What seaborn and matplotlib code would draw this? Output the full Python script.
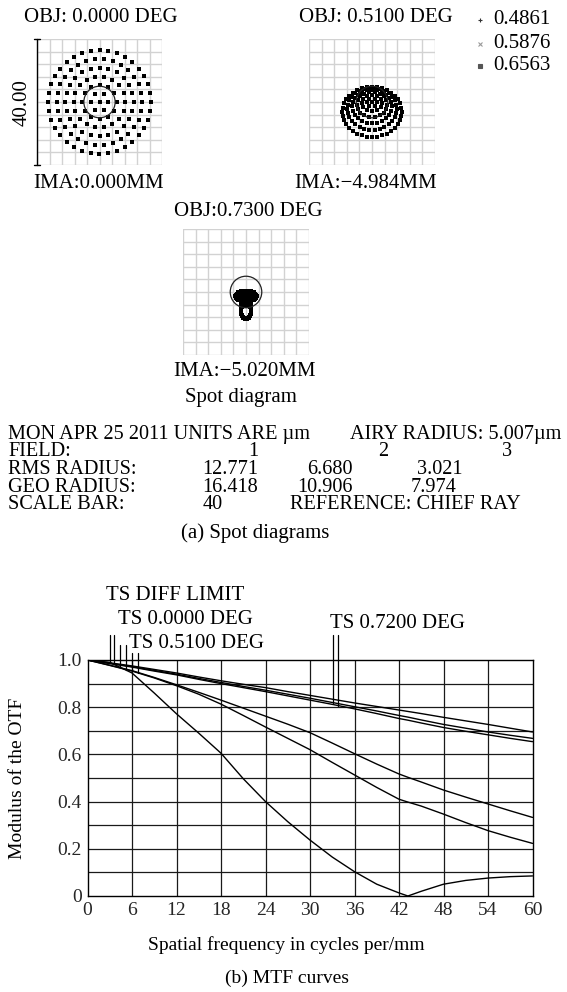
import numpy as np
import pandas as pd
import matplotlib
matplotlib.use("Agg")
import matplotlib.pyplot as plt
import seaborn as sns
from matplotlib.lines import Line2D
from matplotlib.patches import Circle

# ---------------- data ----------------
spot_titles = ["OBJ: 0.0000 DEG", "OBJ: 0.5100 DEG", "OBJ:0.7300 DEG"]
spot_ima = ["IMA:0.000MM", "IMA:\u22124.984MM", "IMA:\u22125.020MM"]
wavelengths = ["0.4861", "0.5876", "0.6563"]
airy_radius_um = 5.007
scale_bar_label = "40.00"

# hexapolar pupil rings: points per ring
ring_points = [1, 6, 12, 18, 24, 30, 36]
# field 1 (0.00 deg) ring shape in um
f1_rx = [0.0, 2.75, 5.5, 8.2, 10.9, 13.7, 16.4]
f1_ry = [0.0, 2.75, 5.5, 8.2, 10.9, 13.7, 16.4]
f1_cy = [0.0, 0.0, 0.0, 0.0, 0.0, 0.0, 0.0]
# field 2 (0.51 deg)
f2_rx = [0.0, 1.6, 3.2, 4.8, 6.3, 7.9, 9.5]
f2_ry = [0.0, 1.3, 2.65, 4.0, 5.3, 6.6, 7.95]
f2_cy = [0.0, -0.1, -0.35, -0.8, -1.4, -2.2, -3.15]
# field 3 (0.73 deg)
f3_rx = [0.0, 1.0, 1.9, 2.8, 3.4, 1.5, 1.6]
f3_ry = [0.0, 0.6, 1.1, 1.5, 1.8, 1.0, 2.4]
f3_cy = [-0.9, -1.1, -1.2, -1.3, -1.4, -3.6, -6.1]

field_ids = ["1", "2", "3"]
rms_radius = ["12.771", "6.680", "3.021"]
geo_radius = ["16.418", "10.906", "7.974"]

# MTF curves
mtf_freq = [0, 3, 6, 9, 12, 15, 18, 21, 24, 27, 30, 33, 36, 39, 42, 43.2, 45, 48, 51, 54, 57, 60]
mtf_diff = [1.0, 0.988, 0.975, 0.96, 0.945, 0.928, 0.912, 0.897, 0.883, 0.866, 0.85, 0.834, 0.818,
            0.803, 0.788, 0.782, 0.773, 0.757, 0.742, 0.727, 0.711, 0.695]
mtf_072_t = [1.0, 0.986, 0.972, 0.956, 0.94, 0.922, 0.905, 0.888, 0.872, 0.855, 0.838, 0.82, 0.802,
             0.784, 0.765, 0.758, 0.746, 0.727, 0.711, 0.695, 0.681, 0.668]
mtf_072_s = [1.0, 0.985, 0.97, 0.953, 0.937, 0.918, 0.9, 0.883, 0.866, 0.848, 0.83, 0.812, 0.793,
             0.773, 0.752, 0.745, 0.733, 0.714, 0.698, 0.683, 0.668, 0.654]
mtf_051_t = [1.0, 0.978, 0.955, 0.926, 0.895, 0.863, 0.83, 0.796, 0.762, 0.728, 0.692, 0.648, 0.603,
             0.559, 0.517, 0.503, 0.483, 0.449, 0.419, 0.39, 0.361, 0.333]
mtf_051_s = [1.0, 0.977, 0.953, 0.924, 0.891, 0.855, 0.813, 0.765, 0.716, 0.668, 0.62, 0.566, 0.513,
             0.46, 0.41, 0.398, 0.381, 0.347, 0.311, 0.277, 0.249, 0.223]
mtf_000 = [1.0, 0.99, 0.945, 0.86, 0.772, 0.69, 0.605, 0.497, 0.40, 0.315, 0.237, 0.165, 0.103,
           0.05, 0.013, 0.0, 0.02, 0.05, 0.066, 0.076, 0.082, 0.085]

marker_labels = ["TS DIFF LIMIT", "TS 0.0000 DEG", "TS 0.5100 DEG", "TS 0.7200 DEG"]
marker_freq_t = [3.0, 4.4, 6.0, 33.1]
marker_freq_s = [3.6, 5.2, 6.75, 33.8]
marker_top = [1.106, 1.064, 1.03, 1.106]

x_ticks = [0, 6, 12, 18, 24, 30, 36, 42, 48, 54, 60]
y_ticks = [0, 0.2, 0.4, 0.6, 0.8, 1.0]
y_ticklabels = ["0", "0.2", "0.4", "0.6", "0.8", "1.0"]

# ---------------- style ----------------
sns.set_theme(style="white")
plt.rcParams['font.family'] = ['Liberation Serif', 'DejaVu Serif']
plt.rcParams['axes.unicode_minus'] = True

W, H = 567, 992
fig = plt.figure(figsize=(W / 100, H / 100), dpi=100)


def rect(x0, y0, x1, y1):
    return [x0 / W, 1 - y1 / H, (x1 - x0) / W, (y1 - y0) / H]


def fpos(x, y):
    return x / W, 1 - y / H


def ftext(x, y, s, size=15, ha="center", va="center", **kw):
    fx, fy = fpos(x, y)
    fig.text(fx, fy, s, fontsize=size, ha=ha, va=va, color="black", **kw)


def ring_df(rx, ry, cy):
    rows = []
    for k, n in enumerate(ring_points):
        th = 2 * np.pi * np.arange(n) / n
        xs = rx[k] * np.cos(th)
        ys = cy[k] + ry[k] * np.sin(th)
        for a, b in zip(xs, ys):
            rows.append((a, b))
    return pd.DataFrame(rows, columns=["x", "y"])


def spot_axes(box, rx, ry, cy, size):
    ax = fig.add_axes(rect(*box))
    df = ring_df(rx, ry, cy)
    sns.scatterplot(data=df, x="x", y="y", ax=ax, marker="s", s=size, color="black",
                    linewidth=0, legend=False, zorder=3)
    ax.set_xlim(-20, 20)
    ax.set_ylim(-20, 20)
    g = np.linspace(-20, 20, 11)
    for v in g:
        ax.axvline(v, color="#d2d2d2", lw=1.0, zorder=1)
        ax.axhline(v, color="#d2d2d2", lw=1.0, zorder=1)
    ax.add_patch(Circle((0, 0), airy_radius_um, fill=False, lw=0.9, ec="#222222", zorder=4))
    ax.set_xticks([])
    ax.set_yticks([])
    ax.set_xlabel("")
    ax.set_ylabel("")
    for sp in ax.spines.values():
        sp.set_visible(False)
    return ax


ax1 = spot_axes((37, 39, 162, 165), f1_rx, f1_ry, f1_cy, 6)
ax2 = spot_axes((309, 39, 435, 165), f2_rx, f2_ry, f2_cy, 5)
ax3 = spot_axes((183, 229, 309, 355), f3_rx, f3_ry, f3_cy, 7)

# scale bar for field 1
fig.add_artist(Line2D([37 / W, 37 / W], [1 - 39 / H, 1 - 165 / H], color="black", lw=1.0))
for yy in (39, 165):
    fig.add_artist(Line2D([34 / W, 40 / W], [1 - yy / H, 1 - yy / H], color="black", lw=1.0))
ftext(22, 103, scale_bar_label, size=15, rotation=90)

ftext(101, 18, spot_titles[0])
ftext(99, 183, spot_ima[0])
ftext(376, 18, spot_titles[1])
ftext(366, 183, spot_ima[1])
ftext(248, 212, spot_titles[2])
ftext(245, 372, spot_ima[2])
ftext(241, 398, "Spot diagram")

# wavelength legend
leg_y = [20, 44, 66]
leg_marker = ["+", "x", "s"]
leg_color = ["#333333", "#999999", "#555555"]
for yy, m, c, lab in zip(leg_y, leg_marker, leg_color, wavelengths):
    fx, fy = fpos(480, yy)
    fig.add_artist(Line2D([fx], [fy], marker=m, color=c, markersize=3, lw=0, mew=0.8))
    ftext(493, yy, lab, ha="left")

# text table
TS = 14.6
rows_y = [434, 451.75, 469.5, 487.25, 505]
ftext(8, rows_y[0], "MON APR 25 2011 UNITS ARE \u00b5m", size=TS, ha="left")
ftext(561, rows_y[0], "AIRY RADIUS: 5.007\u00b5m", size=TS, ha="right")
ftext(8, rows_y[1], "FIELD:", size=TS, ha="left")
ftext(8, rows_y[2], "RMS RADIUS:", size=TS, ha="left")
ftext(8, rows_y[3], "GEO RADIUS:", size=TS, ha="left")
ftext(8, rows_y[4], "SCALE BAR:", size=TS, ha="left")
for xr, s in zip([258, 388, 512], field_ids):
    ftext(xr, rows_y[1], s, size=TS, ha="right")
for xr, s in zip([258, 353, 462], rms_radius):
    ftext(xr, rows_y[2], s, size=TS, ha="right")
for xr, s in zip([258, 353, 457], geo_radius):
    ftext(xr, rows_y[3], s, size=TS, ha="right")
ftext(203, rows_y[4], "40", size=TS, ha="left")
ftext(290, rows_y[4], "REFERENCE: CHIEF RAY", size=TS, ha="left")
ftext(255, 533, "(a) Spot diagrams")

# ---------------- MTF ----------------
axm = fig.add_axes(rect(87.5, 660, 532.5, 896))
curves = {"diff": mtf_diff, "t072": mtf_072_t, "s072": mtf_072_s,
          "t051": mtf_051_t, "s051": mtf_051_s, "000": mtf_000}
mtf_df = pd.concat([pd.DataFrame({"freq": mtf_freq, "mtf": v, "curve": k}) for k, v in curves.items()])
sns.lineplot(data=mtf_df, x="freq", y="mtf", units="curve", estimator=None, color="black",
             lw=1.0, ax=axm, legend=False, zorder=3)
for v in x_ticks[1:-1]:
    axm.axvline(v, color="#1a1a1a", lw=0.9, zorder=1)
for v in np.arange(1, 10) / 10:
    axm.axhline(v, color="#1a1a1a", lw=0.9, zorder=1)
axm.set_xlim(0, 60)
axm.set_ylim(0, 1.0)
axm.set_xticks(x_ticks)
axm.set_xticklabels([str(t) for t in x_ticks], fontsize=14)
axm.set_yticks(y_ticks)
axm.set_yticklabels(y_ticklabels, fontsize=14)
axm.tick_params(length=0, pad=4)
for sp in axm.spines.values():
    sp.set_color("black")
    sp.set_linewidth(1.0)
axm.set_xlabel("")
axm.set_ylabel("")

# curve markers
marker_curves_t = [mtf_diff, mtf_000, mtf_051_t, mtf_072_t]
marker_curves_s = [mtf_diff, mtf_000, mtf_051_s, mtf_072_s]
for ft, fs, top, ct, cs in zip(marker_freq_t, marker_freq_s, marker_top, marker_curves_t, marker_curves_s):
    for f, c in ((ft, ct), (fs, cs)):
        yb = float(np.interp(f, mtf_freq, c))
        axm.plot([f, f], [yb, top], color="black", lw=0.9, clip_on=False, zorder=4)

ftext(106, 596, marker_labels[0], ha="left")
ftext(118, 620, marker_labels[1], ha="left")
ftext(129, 644, marker_labels[2], ha="left")
ftext(330, 623, marker_labels[3], ha="left")

ftext(286, 945, "Spatial frequency in cycles per/mm", size=14)
ftext(18, 778, "Modulus of the OTF", size=14, rotation=90)
ftext(287, 978, "(b) MTF curves", size=14)

fig.savefig("out.png", dpi=100)
